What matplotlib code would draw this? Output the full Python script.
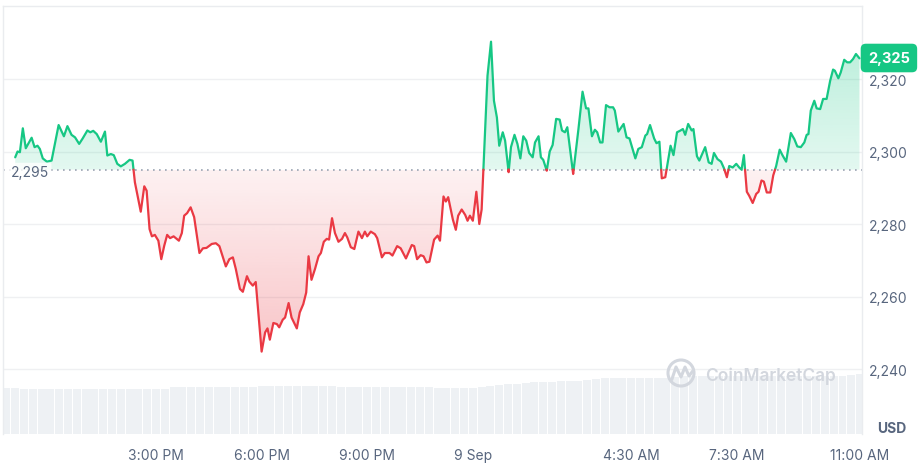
import numpy as np
import matplotlib
matplotlib.use("Agg")
import matplotlib.pyplot as plt
from matplotlib.colors import LinearSegmentedColormap
from matplotlib.path import Path
from matplotlib.patches import PathPatch, Ellipse
from matplotlib.lines import Line2D

plt.rcParams['font.family'] = ['Inter', 'DejaVu Sans']

# ---------------- data (minutes since 11:00 AM, 8 Sep) ----------------
minutes = [0, 4, 8, 13, 18, 28, 33, 38, 42, 47, 54, 62, 74, 83, 89, 96, 102, 109, 115, 123,
           128, 133, 139, 146, 153, 157, 163, 168, 174, 180, 187, 195, 200, 204, 214, 220, 224, 229, 233, 238,
           244, 249, 254, 259, 264, 270, 279, 284, 288, 293, 299, 305, 314, 320, 326, 335, 342, 348, 355, 359,
           365, 371, 376, 383, 388, 395, 399, 405, 410, 420, 426, 430, 434, 440, 446, 450, 456, 460, 466, 471,
           480, 485, 491, 496, 500, 505, 511, 517, 521, 526, 531, 535, 540, 545, 551, 557, 562, 566, 572, 578,
           585, 591, 596, 600, 606, 613, 617, 625, 630, 638, 643, 651, 657, 666, 676, 680, 685, 691, 696, 701,
           706, 714, 720, 724, 730, 734, 738, 746, 751, 755, 761, 767, 771, 775, 780, 786, 791, 795, 805, 811,
           816, 821, 825, 831, 835, 841, 845, 851, 856, 861, 866, 871, 876, 882, 886, 892, 896, 900, 906, 911,
           916, 922, 928, 932, 937, 941, 951, 960, 967, 973, 977, 983, 988, 992, 997, 1001, 1007, 1013, 1019, 1022,
           1028, 1037, 1042, 1047, 1057, 1062, 1068, 1074, 1077, 1082, 1089, 1093, 1098, 1102, 1108, 1117, 1122, 1128, 1134, 1138,
           1142, 1147, 1153, 1156, 1162, 1166, 1176, 1182, 1187, 1191, 1197, 1203, 1208, 1213, 1217, 1223, 1229, 1234, 1238, 1242,
           1247, 1251, 1257, 1263, 1267, 1272, 1276, 1281, 1287, 1292, 1297, 1303, 1308, 1314, 1322, 1328, 1333, 1339, 1345, 1349,
           1352, 1356, 1362, 1366, 1372, 1377, 1383, 1389, 1394, 1397, 1403, 1407, 1413, 1418, 1423, 1428, 1433, 1439]

prices = [2298.4, 2300.0, 2299.8, 2306.4, 2300.9, 2303.8, 2301.2, 2301.6, 2300.7, 2298.1,
          2297.2, 2297.5, 2307.3, 2304.2, 2307.0, 2304.6, 2303.9, 2302.1, 2303.6, 2305.8,
          2305.3, 2305.7, 2304.8, 2302.7, 2305.5, 2298.9, 2299.3, 2299.0, 2296.6, 2295.9,
          2296.6, 2297.7, 2297.5, 2291.5, 2283.4, 2290.4, 2289.2, 2278.6, 2276.6, 2277.0,
          2275.4, 2270.3, 2274.0, 2277.0, 2276.1, 2276.6, 2275.4, 2277.5, 2282.3, 2283.0,
          2284.6, 2281.9, 2272.0, 2273.3, 2273.4, 2274.5, 2274.7, 2273.9, 2270.3, 2268.3,
          2270.3, 2270.8, 2267.6, 2262.1, 2261.3, 2265.6, 2264.1, 2263.0, 2264.0, 2244.8,
          2250.1, 2251.2, 2248.1, 2252.7, 2252.4, 2251.5, 2253.6, 2254.2, 2258.2, 2254.2,
          2251.2, 2255.6, 2257.9, 2261.1, 2271.1, 2264.6, 2267.6, 2271.1, 2272.0, 2275.1,
          2275.9, 2275.7, 2281.6, 2277.5, 2275.1, 2275.9, 2277.5, 2276.3, 2273.6, 2273.1,
          2277.9, 2276.1, 2277.9, 2276.6, 2277.9, 2277.2, 2276.1, 2270.8, 2272.0, 2272.0,
          2271.3, 2273.9, 2273.3, 2270.5, 2274.2, 2273.9, 2270.3, 2271.4, 2271.1, 2269.4,
          2269.6, 2275.7, 2276.8, 2275.4, 2287.6, 2286.2, 2287.4, 2281.2, 2278.4, 2282.3,
          2284.0, 2282.5, 2280.9, 2282.3, 2280.9, 2288.9, 2280.0, 2284.0, 2320.9, 2330.3,
          2314.0, 2309.4, 2301.6, 2305.3, 2303.0, 2294.3, 2301.2, 2304.6, 2302.1, 2298.1,
          2304.2, 2303.0, 2299.6, 2298.4, 2302.5, 2304.2, 2298.4, 2297.7, 2294.7, 2300.0,
          2301.8, 2309.0, 2308.8, 2305.8, 2305.3, 2306.7, 2293.8, 2306.2, 2316.5, 2311.9,
          2311.9, 2304.2, 2306.0, 2305.3, 2302.5, 2302.5, 2312.8, 2312.2, 2312.2, 2311.3,
          2305.5, 2307.6, 2303.9, 2303.6, 2298.1, 2300.7, 2301.2, 2304.4, 2304.8, 2307.3,
          2303.6, 2302.3, 2302.7, 2292.6, 2292.9, 2301.6, 2299.0, 2305.3, 2305.8, 2306.2,
          2304.6, 2307.6, 2305.8, 2306.2, 2298.7, 2297.5, 2301.2, 2297.0, 2296.6, 2299.6,
          2297.9, 2297.2, 2295.4, 2292.9, 2296.0, 2295.6, 2296.6, 2295.6, 2295.0, 2299.0,
          2288.9, 2287.8, 2285.8, 2288.3, 2288.9, 2292.0, 2291.7, 2288.7, 2288.7, 2293.4,
          2296.0, 2300.5, 2298.9, 2297.2, 2305.1, 2303.4, 2301.4, 2301.2, 2302.5, 2304.6,
          2304.8, 2311.3, 2314.0, 2311.9, 2311.7, 2314.5, 2314.5, 2319.5, 2322.6, 2322.3,
          2320.2, 2321.8, 2325.3, 2324.6, 2324.6, 2325.5, 2326.9, 2325.7]

baseline = 2295
baseline_label = "2,295"
last_price_label = "2,325"
last_price = 2325

y_ticks = [2240, 2260, 2280, 2300, 2320]
y_tick_labels = ["2,240", "2,260", "2,280", "2,300", "2,320"]
x_ticks = [240, 420, 600, 780, 1050, 1230, 1440]
x_tick_labels = ["3:00 PM", "6:00 PM", "9:00 PM", "9 Sep", "4:30 AM", "7:30 AM", "11:00 AM"]

# volume (billions USD), one bar per 15 minutes starting at -15 min
volume_start = -15
volume_step = 15
volume = [10.15, 10.15,
          10.0, 10.0, 10.0, 10.0, 10.0, 10.0, 10.0, 10.0, 10.0, 10.0, 10.0, 10.0, 10.0, 10.0, 10.0, 10.0, 10.0,
          10.37, 10.37, 10.37, 10.37, 10.37, 10.37, 10.37, 10.37, 10.37, 10.37,
          10.72, 10.72, 10.72, 10.72, 10.72, 10.72, 10.72, 10.72, 10.72,
          10.37, 10.37, 10.37, 10.37, 10.37, 10.37, 10.37, 10.37, 10.37, 10.37, 10.37,
          10.15, 10.15, 10.15, 10.15, 10.15,
          10.4, 10.6, 10.8, 11.0, 11.2, 11.4, 11.5, 11.55, 11.6, 11.7, 11.8, 11.85, 12.0, 12.3,
          12.36, 12.36, 12.36, 12.36, 12.36, 12.36, 12.36, 12.36,
          12.6, 12.8,
          12.95, 12.95, 12.95, 12.95, 12.95, 12.95, 12.95, 12.95, 12.95, 12.95, 12.95, 12.95, 12.95, 12.95,
          12.95, 12.95, 12.95, 12.95,
          13.2, 13.3]

# ---------------- styling ----------------
GREEN = "#16c784"
RED = "#ea3943"
TXT = "#58667e"
W, H = 920, 464

fig = plt.figure(figsize=(W / 100, H / 100), dpi=100)
rect = [3 / W, 29 / H, 859 / W, 428 / H]
axv = fig.add_axes(rect)
ax = fig.add_axes(rect, sharex=axv)
ax.patch.set_visible(False)

# volume bars
vt = volume_start + volume_step * np.arange(len(volume))
axv.bar(vt, volume, width=volume_step * 0.9, color="#eef1f4", edgecolor="none")
axv.set_ylim(0, 95)
axv.axis("off")

# insert crossing points with the baseline
t = np.array(minutes, float)
p = np.array(prices, float)
tt, pp = [t[0]], [p[0]]
for i in range(1, len(t)):
    d0, d1 = p[i - 1] - baseline, p[i] - baseline
    if d0 * d1 < 0:
        f = d0 / (d0 - d1)
        tt.append(t[i - 1] + f * (t[i] - t[i - 1]))
        pp.append(baseline)
    tt.append(t[i])
    pp.append(p[i])
tt = np.array(tt)
pp = np.array(pp)


def gradient_fill(mask, colors, y0, y1):
    coll = ax.fill_between(tt, pp, baseline, where=mask, interpolate=True,
                           facecolor="none", edgecolor="none")
    comp = Path.make_compound_path(*coll.get_paths())
    patch = PathPatch(comp, transform=ax.transData, facecolor="none", edgecolor="none")
    ax.add_patch(patch)
    cmap = LinearSegmentedColormap.from_list("g", colors)
    grad = np.linspace(0, 1, 256).reshape(-1, 1)
    im = ax.imshow(grad, extent=[tt[0], tt[-1], y0, y1], origin="lower", cmap=cmap,
                   aspect="auto", zorder=1, interpolation="bicubic")
    im.set_clip_path(patch)


gradient_fill(pp >= baseline, [(22/255, 199/255, 132/255, 0.12), (22/255, 199/255, 132/255, 0.30)],
              baseline, 2332)
gradient_fill(pp <= baseline, [(234/255, 57/255, 67/255, 0.30), (234/255, 57/255, 67/255, 0.07)],
              2244, baseline)

# line coloured by side of baseline
ax.plot(tt, np.where(pp >= baseline, pp, np.nan), color=GREEN, lw=1.6, zorder=3,
        solid_joinstyle="round", solid_capstyle="round")
ax.plot(tt, np.where(pp <= baseline, pp, np.nan), color=RED, lw=1.6, zorder=3,
        solid_joinstyle="round", solid_capstyle="round")

# dotted baseline
ax.axhline(baseline, color="#9aa3b2", lw=1.2, ls=(0, (1, 2.6)), zorder=2)
ax.text(-7, baseline - 0.6, baseline_label, ha="left", va="center", fontsize=10, color=TXT, zorder=5,
        bbox=dict(boxstyle="round,pad=0.15", fc="white", ec="none", alpha=0.8))

# axes, grid, ticks
ax.set_xlim(-20.8, 1443.3)
ax.set_ylim(2222.07, 2340.14)
ax.set_yticks(y_ticks)
ax.set_yticklabels(y_tick_labels)
ax.set_xticks(x_ticks)
ax.set_xticklabels(x_tick_labels)
ax.yaxis.tick_right()
ax.tick_params(axis="y", length=0, pad=5, labelsize=10, labelcolor=TXT)
ax.tick_params(axis="x", length=0, pad=10, labelsize=10, labelcolor=TXT)
ax.grid(axis="y", color="#eff0f2", lw=1, zorder=0)
ax.set_axisbelow(True)
for s in ["top", "left", "right"]:
    ax.spines[s].set_color("#eaecef")
    ax.spines[s].set_linewidth(1)
ax.spines["bottom"].set_visible(False)

# current price badge
fig.text(868 / W, 1 - 59 / H, last_price_label, ha="left", va="center", color="white",
         fontsize=10.5, fontweight="bold",
         bbox=dict(boxstyle="round,pad=0.5,rounding_size=0.35", fc=GREEN, ec="none"))

# currency label
fig.text(892 / W, 1 - 429 / H, "USD", ha="center", va="center", fontsize=10,
         fontweight="bold", color=TXT)

# watermark
WM = "#d3d7de"
fig.patches.append(Ellipse((681 / W, 1 - 374 / H), 26 / W, 26 / H, transform=fig.transFigure,
                           fill=False, ec=WM, lw=2.2))
zx = [672, 676, 681, 685, 689, 692]
zy = [380, 368, 378, 368, 377, 373]
fig.lines.append(Line2D([x / W for x in zx], [1 - y / H for y in zy], transform=fig.transFigure,
                        color=WM, lw=2.2, solid_joinstyle="round"))
fig.text(705 / W, 1 - 376 / H, "CoinMarketCap", ha="left", va="center", fontsize=12.5,
         fontweight="semibold", color=WM)

fig.savefig("out.png", dpi=100)
